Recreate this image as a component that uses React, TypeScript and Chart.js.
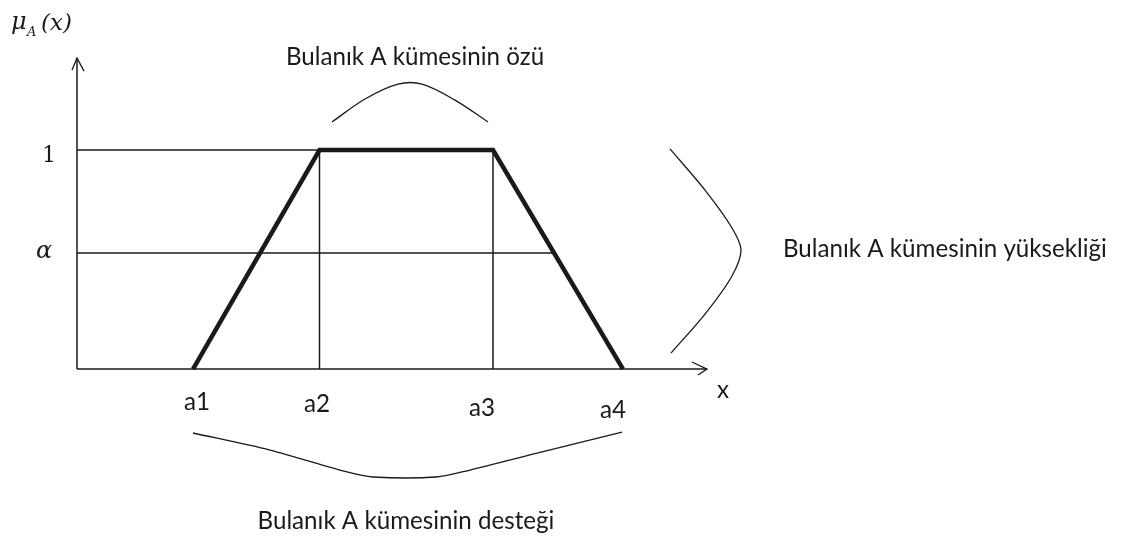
import React, { useEffect, useRef } from "react";
import { Chart, registerables } from "chart.js";

Chart.register(...registerables);

// Trapezoidal fuzzy set A: breakpoints and their membership grades
const breakLabels = ["a1", "a2", "a3", "a4"];
const breakValues = [2.32, 4.85, 8.32, 10.92];
const breakGrades = [0, 1, 1, 0];
const alphaLevel = 0.53;
const heightLevel = 1;

// Axis lengths (x in domain units, y in membership units)
const xAxisEnd = 12.6;
const yAxisEnd = 1.42;
const xArrowX = [12.3, 12.6, 12.42];
const xArrowY = [0.032, 0, -0.027];
const yArrowX = [-0.1, 0, 0.14];
const yArrowY = [1.365, 1.42, 1.36];

// Brace over the core [a2, a3]
const coreBraceX = [5.1, 5.76, 6.42, 6.9, 7.56, 8.22];
const coreBraceY = [1.128, 1.233, 1.301, 1.301, 1.228, 1.128];
// Brace beside the height (0..1)
const heightBraceX = [11.86, 12.56, 13.1, 13.28, 13.1, 12.56, 11.88];
const heightBraceY = [1.005, 0.817, 0.644, 0.543, 0.425, 0.251, 0.073];
// Brace under the support [a1, a4]
const supportBraceX = [2.32, 3.86, 5.4, 5.92, 7.18, 7.86, 9.2, 10.9];
const supportBraceY = [-0.292, -0.37, -0.47, -0.493, -0.493, -0.461, -0.384, -0.288];

// Captions
const coreCaption = "Bulanık A kümesinin özü";
const heightCaption = "Bulanık A kümesinin yüksekliği";
const supportCaption = "Bulanık A kümesinin desteği";
const xAxisLabel = "x";
const heightTick = "1";
const alphaTick = "α";

// Visible window of the drawing, in data units
const X_MIN = -1.54;
const X_MAX = 21.06;
const Y_MIN = -0.776;
const Y_MAX = 1.685;

const INK = "#1a1a1a";
const SANS = "Lato, 'Open Sans', sans-serif";
const SERIF = "'DejaVu Serif', 'Liberation Serif', serif";

const pts = (xs: number[], ys: number[]) => xs.map((x, i) => ({ x, y: ys[i] }));

function line(data: { x: number; y: number }[], width: number, tension = 0) {
  return {
    data,
    showLine: true,
    borderColor: INK,
    backgroundColor: INK,
    borderWidth: width,
    pointRadius: 0,
    pointHoverRadius: 0,
    tension,
    fill: false,
  };
}

const textPlugin = {
  id: "diagramText",
  afterDatasetsDraw(chart: any) {
    const { ctx, scales } = chart;
    const px = (v: number) => scales.x.getPixelForValue(v);
    const py = (v: number) => scales.y.getPixelForValue(v);
    ctx.save();
    ctx.fillStyle = INK;

    // caption size chosen so the longest caption spans its slot
    ctx.font = `100px ${SANS}`;
    const ref = ctx.measureText(heightCaption).width;
    const size = (100 * 324) / ref;
    ctx.font = `${size}px ${SANS}`;
    ctx.textBaseline = "alphabetic";

    ctx.textAlign = "center";
    ctx.fillText(coreCaption, px(6.76), py(1.386));
    ctx.fillText(supportCaption, px(6.58), py(-0.73));
    ctx.textAlign = "left";
    ctx.fillText(heightCaption, px(14.12), py(0.511));

    // breakpoint labels under the x axis
    const labelX = [2.4, 4.8, 8.1, 10.72];
    const labelY = [-0.187, -0.196, -0.215, -0.224];
    ctx.textAlign = "center";
    breakLabels.forEach((t, i) => ctx.fillText(t, px(labelX[i]), py(labelY[i])));
    ctx.fillText(xAxisLabel, px(12.92), py(-0.132));

    // membership ticks
    ctx.font = `22px ${SERIF}`;
    ctx.textAlign = "center";
    ctx.fillText(heightTick, px(-0.56), py(0.945));
    ctx.font = `italic 24px ${SERIF}`;
    ctx.fillText(alphaTick, px(-0.66), py(0.507));

    // y axis title: μ_A(x)
    ctx.textAlign = "left";
    ctx.font = `italic 24px ${SERIF}`;
    ctx.fillText("μ", 11, 29);
    ctx.font = `italic 13px ${SERIF}`;
    ctx.fillText("A", 27, 36);
    ctx.font = `italic 23px ${SERIF}`;
    ctx.fillText("(x)", 41, 30);

    ctx.restore();
  },
};

export default function App() {
  const canvasRef = useRef<HTMLCanvasElement | null>(null);

  useEffect(() => {
    if (!canvasRef.current) return;
    const alphaRight = breakValues[3] - alphaLevel * (breakValues[3] - breakValues[2]);

    const datasets = [
      // axes
      line(pts([0, 0], [0, yAxisEnd]), 1.5),
      line(pts([0, xAxisEnd], [0, 0]), 1.5),
      line(pts(yArrowX, yArrowY), 1.3),
      line(pts(xArrowX, xArrowY), 1.3),
      // guide lines
      line(pts([0, breakValues[2]], [heightLevel, heightLevel]), 1.5),
      line(pts([0, alphaRight], [alphaLevel, alphaLevel]), 1.5),
      line(pts([breakValues[1], breakValues[1]], [0, heightLevel]), 1.5),
      line(pts([breakValues[2], breakValues[2]], [0, heightLevel]), 1.5),
      // membership function
      line(pts(breakValues, breakGrades), 4.5),
      // braces
      line(pts(coreBraceX, coreBraceY), 1.3, 0.35),
      line(pts(heightBraceX, heightBraceY), 1.3, 0.3),
      line(pts(supportBraceX, supportBraceY), 1.3, 0.3),
    ];

    const chart = new Chart(canvasRef.current, {
      type: "scatter",
      data: { datasets: datasets as any },
      options: {
        animation: false,
        responsive: false,
        devicePixelRatio: 1,
        layout: { padding: 0 },
        events: [],
        plugins: { legend: { display: false }, tooltip: { enabled: false } },
        scales: {
          x: { type: "linear", min: X_MIN, max: X_MAX, display: false },
          y: { type: "linear", min: Y_MIN, max: Y_MAX, display: false },
        },
      },
      plugins: [textPlugin],
    });
    return () => chart.destroy();
  }, []);

  return (
    <div style={{ position: "fixed", left: 0, top: 0, width: 1130, height: 539, background: "#fff" }}>
      <canvas ref={canvasRef} width={1130} height={539} />
    </div>
  );
}
